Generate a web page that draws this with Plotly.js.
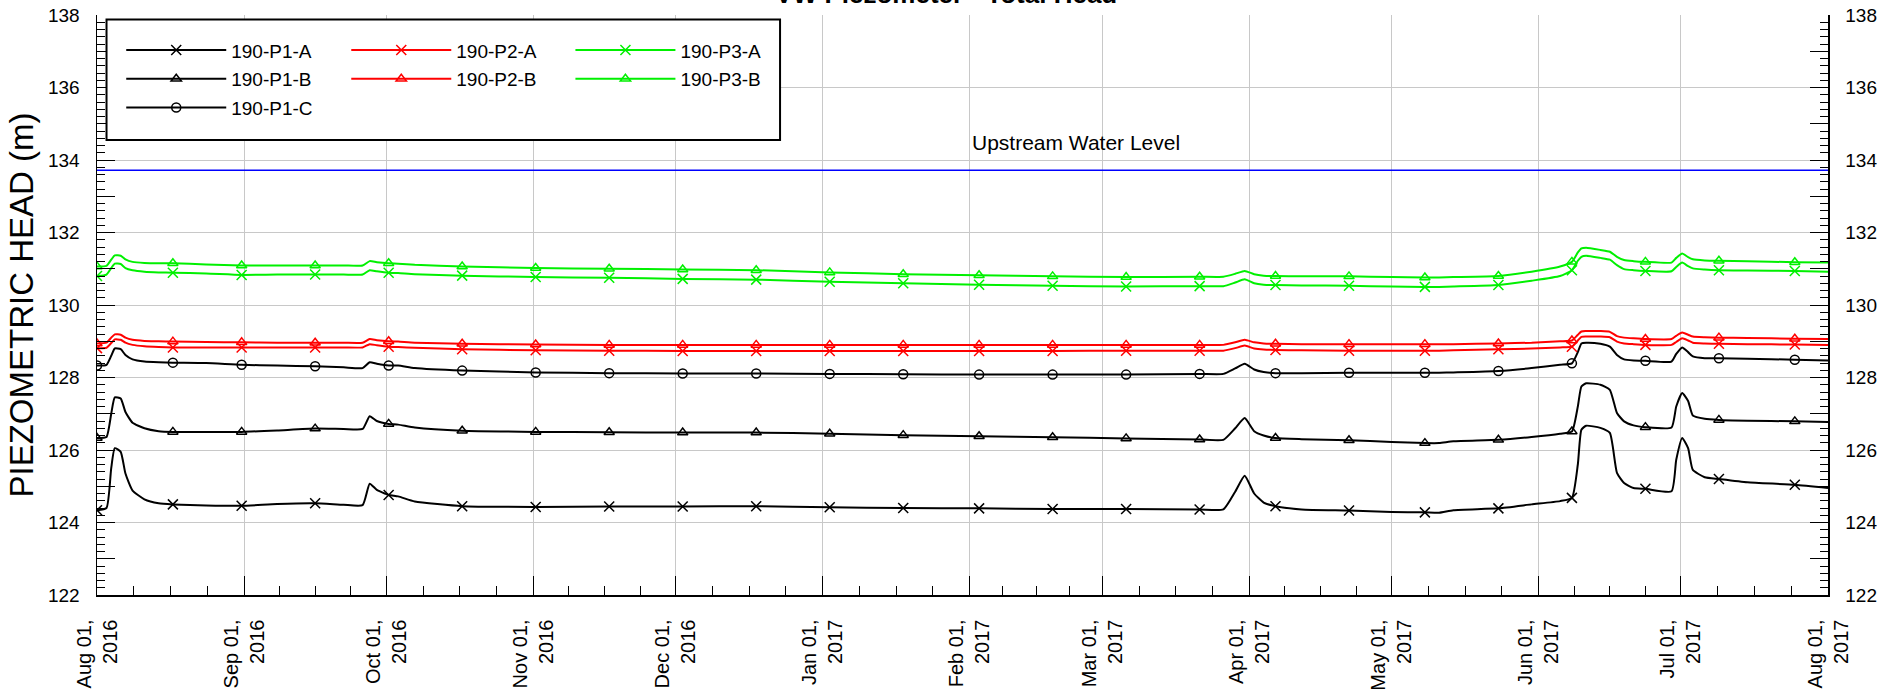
<!DOCTYPE html>
<html><head><meta charset="utf-8">
<script src="https://cdn.plot.ly/plotly-3.0.1.min.js"></script>
<style>html,body{margin:0;padding:0;background:#fff}#chart{width:1904px;height:693px}</style>
</head><body><div id="chart"></div>
<script>
const dates = [
 '2016-08-01','2016-08-03','2016-08-04','2016-08-04 18:00','2016-08-06','2016-08-07','2016-08-08 12:00','2016-08-11','2016-08-14','2016-08-17',
 '2016-08-24','2016-08-31 12:00','2016-09-08','2016-09-16','2016-09-22','2016-09-26','2016-09-27 12:00','2016-09-29','2016-10-01 12:00','2016-10-03 12:00',
 '2016-10-07','2016-10-17','2016-11-01 12:00','2016-11-17','2016-12-02 12:00','2016-12-18','2017-01-02 12:00','2017-01-18','2017-02-03','2017-02-18 12:00',
 '2017-03-06','2017-03-21 12:00','2017-03-26 12:00','2017-03-29','2017-03-31','2017-04-02','2017-04-04','2017-04-06 12:00','2017-04-12','2017-04-22',
 '2017-05-01','2017-05-08','2017-05-11','2017-05-14','2017-05-23 12:00','2017-05-30 12:00','2017-06-05 12:00','2017-06-08','2017-06-09 06:00','2017-06-10',
 '2017-06-11','2017-06-14','2017-06-16','2017-06-17 12:00','2017-06-19','2017-06-21','2017-06-23 12:00','2017-06-29','2017-06-30','2017-07-01 06:00',
 '2017-07-02 12:00','2017-07-03 12:00','2017-07-06','2017-07-09','2017-07-15','2017-07-25','2017-08-01'
];
const p1a = [124.34,124.40,125.50,126.05,125.95,125.35,124.88,124.64,124.53,124.50,
 124.47,124.46,124.51,124.53,124.49,124.48,125.07,124.90,124.76,124.72,
 124.58,124.45,124.43,124.44,124.44,124.45,124.42,124.40,124.39,124.37,
 124.37,124.36,124.36,124.85,125.29,124.80,124.55,124.45,124.36,124.33,
 124.29,124.28,124.27,124.34,124.39,124.50,124.59,124.68,125.60,126.56,
 126.67,126.61,126.47,125.37,125.09,124.95,124.93,124.86,125.73,126.33,
 126.05,125.45,125.25,125.20,125.11,125.04,124.95];
const p1b = [126.33,126.36,127.00,127.45,127.42,127.05,126.75,126.60,126.52,126.50,
 126.50,126.50,126.54,126.59,126.58,126.58,126.93,126.80,126.72,126.70,
 126.62,126.53,126.50,126.49,126.48,126.48,126.45,126.41,126.38,126.35,
 126.32,126.29,126.28,126.60,126.88,126.52,126.40,126.33,126.30,126.27,
 126.22,126.19,126.19,126.24,126.28,126.36,126.45,126.51,127.20,127.75,
 127.84,127.80,127.66,127.02,126.79,126.68,126.63,126.62,127.20,127.57,
 127.35,126.95,126.86,126.83,126.81,126.79,126.77];
const p1c = [128.33,128.35,128.60,128.80,128.78,128.62,128.50,128.44,128.42,128.41,
 128.40,128.35,128.33,128.31,128.28,128.26,128.42,128.38,128.33,128.33,
 128.26,128.19,128.14,128.12,128.11,128.11,128.10,128.09,128.08,128.08,
 128.08,128.10,128.10,128.25,128.38,128.22,128.15,128.12,128.12,128.13,
 128.13,128.13,128.13,128.14,128.18,128.26,128.35,128.39,128.70,128.94,
 128.96,128.93,128.85,128.62,128.50,128.47,128.46,128.44,128.65,128.83,
 128.70,128.58,128.53,128.53,128.52,128.49,128.47];
const p2a = [128.81,128.82,128.95,129.05,129.04,128.96,128.90,128.86,128.84,128.83,
 128.83,128.83,128.83,128.83,128.83,128.83,128.92,128.89,128.85,128.84,
 128.82,128.78,128.75,128.74,128.73,128.73,128.73,128.73,128.73,128.73,
 128.74,128.74,128.74,128.81,128.88,128.80,128.77,128.76,128.75,128.74,
 128.74,128.74,128.74,128.75,128.78,128.80,128.83,128.85,129.02,129.12,
 129.13,129.13,129.11,128.99,128.94,128.92,128.90,128.90,128.98,129.08,
 129.02,128.96,128.94,128.93,128.92,128.91,128.90];
const p2b = [128.94,128.96,129.10,129.19,129.18,129.10,129.04,129.01,129.00,128.99,
 128.98,128.97,128.96,128.96,128.96,128.96,129.06,129.03,129.00,128.99,
 128.96,128.93,128.91,128.90,128.90,128.90,128.90,128.90,128.90,128.90,
 128.90,128.90,128.90,128.97,129.04,128.97,128.94,128.93,128.92,128.92,
 128.92,128.92,128.92,128.92,128.94,128.96,129.00,129.02,129.18,129.27,
 129.28,129.28,129.26,129.14,129.10,129.08,129.06,129.06,129.15,129.24,
 129.18,129.13,129.11,129.10,129.09,129.07,129.06];
const p3a = [130.80,130.84,131.02,131.14,131.13,131.02,130.96,130.92,130.90,130.89,
 130.87,130.83,130.84,130.84,130.84,130.84,130.96,130.93,130.89,130.88,
 130.85,130.81,130.77,130.75,130.72,130.70,130.64,130.60,130.56,130.53,
 130.51,130.52,130.52,130.62,130.71,130.60,130.56,130.55,130.54,130.53,
 130.51,130.50,130.50,130.51,130.55,130.67,130.80,130.96,131.22,131.33,
 131.36,131.30,131.25,131.10,130.99,130.96,130.94,130.93,131.05,131.17,
 131.07,131.01,130.98,130.96,130.95,130.94,130.92];
const p3b = [131.06,131.08,131.25,131.37,131.36,131.26,131.19,131.16,131.15,131.15,
 131.12,131.09,131.09,131.09,131.09,131.09,131.21,131.18,131.15,131.14,
 131.11,131.06,131.02,131.00,130.98,130.96,130.90,130.85,130.82,130.79,
 130.77,130.78,130.78,130.86,130.94,130.85,130.81,130.80,130.79,130.79,
 130.77,130.76,130.76,130.77,130.80,130.92,131.06,131.19,131.45,131.56,
 131.58,131.52,131.47,131.33,131.24,131.21,131.19,131.17,131.30,131.42,
 131.32,131.26,131.23,131.22,131.21,131.18,131.17];
const markerDates = ['2016-08-01','2016-08-17','2016-08-31 12:00','2016-09-16','2016-10-01 12:00','2016-10-17',
 '2016-11-01 12:00','2016-11-17','2016-12-02 12:00','2016-12-18','2017-01-02 12:00','2017-01-18',
 '2017-02-03','2017-02-18 12:00','2017-03-06','2017-03-21 12:00','2017-04-06 12:00','2017-04-22',
 '2017-05-08','2017-05-23 12:00','2017-06-08','2017-06-23 12:00','2017-07-09','2017-07-25'];
const upstreamLevel = 133.72;
const upstreamDates = ['2016-08-01','2017-08-01'];
const monthTicks = ['2016-08-01','2016-09-01','2016-10-01','2016-11-01','2016-12-01','2017-01-01','2017-02-01',
 '2017-03-01','2017-04-01','2017-05-01','2017-06-01','2017-07-01','2017-08-01'];
const monthLabels = ['Aug 01,<br>2016','Sep 01,<br>2016','Oct 01,<br>2016','Nov 01,<br>2016','Dec 01,<br>2016',
 'Jan 01,<br>2017','Feb 01,<br>2017','Mar 01,<br>2017','Apr 01,<br>2017','May 01,<br>2017','Jun 01,<br>2017',
 'Jul 01,<br>2017','Aug 01,<br>2017'];
const yTicks = [122,123,124,125,126,127,128,129,130,131,132,133,134,135,136,137,138];
const yLabels = ['122','','124','','126','','128','','130','','132','','134','','136','','138'];
const seriesNames = ['190-P1-A','190-P1-B','190-P1-C','190-P2-A','190-P2-B','190-P3-A','190-P3-B'];
const seriesValues = [p1a,p1b,p1c,p2a,p2b,p3a,p3b];

const styles = {
 '190-P1-A':{color:'#000000',symbol:'x-thin-open',size:10,legend:'legend'},
 '190-P1-B':{color:'#000000',symbol:'triangle-up-open',size:9,legend:'legend'},
 '190-P1-C':{color:'#000000',symbol:'circle-open',size:9,legend:'legend'},
 '190-P2-A':{color:'#ff0000',symbol:'x-thin-open',size:10,legend:'legend2'},
 '190-P2-B':{color:'#ff0000',symbol:'triangle-up-open',size:9,legend:'legend2'},
 '190-P3-A':{color:'#00f000',symbol:'x-thin-open',size:10,legend:'legend3'},
 '190-P3-B':{color:'#00f000',symbol:'triangle-up-open',size:9,legend:'legend3'}
};

function fmt(ms){const d=new Date(ms);const p=n=>String(n).padStart(2,'0');
 return d.getUTCFullYear()+'-'+p(d.getUTCMonth()+1)+'-'+p(d.getUTCDate())+' '+p(d.getUTCHours())+':'+p(d.getUTCMinutes());}
const quarterTicks = [];
for(let i=0;i<monthTicks.length-1;i++){
 const a=Date.parse(monthTicks[i]+'T00:00:00Z'), b=Date.parse(monthTicks[i+1]+'T00:00:00Z');
 for(let k=1;k<4;k++) quarterTicks.push(fmt(a+(b-a)*k/4));
}

const traces = [];
traces.push({x:upstreamDates, y:upstreamDates.map(()=>upstreamLevel), mode:'lines',
 line:{color:'#0000ff',width:1.5}, showlegend:false, hoverinfo:'skip'});
seriesNames.forEach((name,i)=>{
 const s = styles[name], vals = seriesValues[i];
 const mk = {symbol:s.symbol,size:s.size,color:s.color,line:{color:s.color,width:1.5}};
 traces.push({x:dates, y:vals, mode:'lines', line:{color:s.color,width:2,shape:'spline',smoothing:0.5}, showlegend:false, legendgroup:name, hoverinfo:'skip'});
 traces.push({x:markerDates, y:markerDates.map(d=>vals[dates.indexOf(d)]), mode:'markers', marker:mk, showlegend:false, legendgroup:name, hoverinfo:'skip'});
 traces.push({x:[null], y:[null], mode:'lines+markers', name:name, legend:s.legend, legendgroup:name,
   line:{color:s.color,width:2}, marker:mk, hoverinfo:'skip'});
});
traces.push({x:[null], y:[null], yaxis:'y2', mode:'lines', showlegend:false, hoverinfo:'skip'});
traces.push({x:[null], y:[null], yaxis:'y3', mode:'lines', showlegend:false, hoverinfo:'skip'});

const FONT = 'Liberation Sans, Arial, sans-serif';
const yCommon = {range:[122,138], tickmode:'array', tickvals:yTicks, ticktext:yLabels, ticks:'inside', ticklen:18,
 tickcolor:'#000', tickwidth:1, showgrid:false, zeroline:false, showline:true, linecolor:'#000', linewidth:1.5,
 tickfont:{size:19,color:'#000',family:FONT}, ticklabelstandoff:12, automargin:false, fixedrange:true,
 minor:{tickmode:'linear', tick0:122, dtick:0.2, ticks:'inside', ticklen:8, tickcolor:'#000', tickwidth:1, showgrid:false}};

const legendCommon = {bgcolor:'rgba(0,0,0,0)', borderwidth:0, font:{size:19,color:'#000',family:FONT},
 xanchor:'left', yanchor:'top', y:0.972, itemwidth:100, tracegroupgap:1, traceorder:'grouped', itemclick:false, itemdoubleclick:false};

const layout = {
 width:1904, height:693,
 margin:{l:97, r:76, t:15, b:98, pad:0},
 paper_bgcolor:'#fff', plot_bgcolor:'#fff',
 font:{family:FONT, color:'#000'},
 title:{text:'<b>VW Piezometer - Total Head</b>', font:{size:26,color:'#000',family:FONT},
   x:0.497, xref:'container', xanchor:'center', y:0.995, yref:'container', yanchor:'bottom'},
 xaxis:{type:'date', range:['2016-08-01','2017-08-01'], tickmode:'array', tickvals:monthTicks, ticktext:monthLabels,
   tickangle:-90, ticks:'inside', ticklen:19, tickcolor:'#000', tickwidth:1, showgrid:true, gridcolor:'#c8c8c8', gridwidth:1,
   showline:true, linecolor:'#000', linewidth:1.5, zeroline:false, tickfont:{size:20,color:'#000',family:FONT},
   ticklabelstandoff:15, automargin:false, fixedrange:true,
   minor:{tickmode:'array', tickvals:quarterTicks, ticks:'inside', ticklen:9, tickcolor:'#000', tickwidth:1, showgrid:false}},
 yaxis:Object.assign({}, yCommon, {side:'left', title:{text:'PIEZOMETRIC HEAD (m)', font:{size:33,color:'#000',family:FONT}, standoff:4}}),
 yaxis2:Object.assign({}, yCommon, {side:'right', overlaying:'y', anchor:'x'}),
 yaxis3:{range:[122,138], overlaying:'y', anchor:'x', tickmode:'linear', tick0:122, dtick:2, showgrid:true, gridcolor:'#c8c8c8',
   gridwidth:1, ticks:'', showticklabels:false, showline:false, zeroline:false, fixedrange:true},
 legend:Object.assign({}, legendCommon, {x:0.014}),
 legend2:Object.assign({}, legendCommon, {x:0.144}),
 legend3:Object.assign({}, legendCommon, {x:0.2735}),
 shapes:[{type:'rect', xref:'paper', yref:'paper', x0:0.0055, x1:0.3946, y0:0.7845, y1:0.9922,
   line:{color:'#000',width:2}, fillcolor:'#fff', layer:'above'}],
 annotations:[{text:'Upstream Water Level', xref:'paper', x:0.5656, yref:'y', y:upstreamLevel, yanchor:'bottom',
   yshift:14, showarrow:false, font:{size:21,color:'#000',family:FONT}}],
 showlegend:true
};
Plotly.newPlot('chart', traces, layout, {displayModeBar:false, staticPlot:true});
</script></body></html>
